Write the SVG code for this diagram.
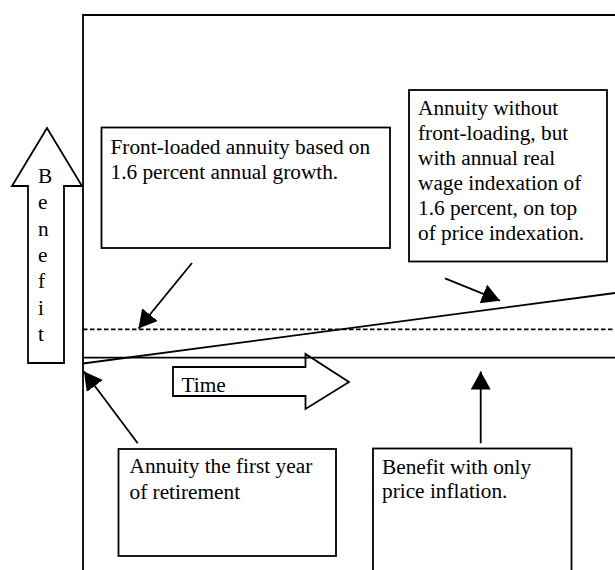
<svg xmlns="http://www.w3.org/2000/svg" width="615" height="570" viewBox="0 0 615 570">
<style>
.ln{stroke:#000;stroke-width:1.8;fill:none}
.bx{stroke:#000;stroke-width:1.8;fill:#fff}
.t{font-family:"Liberation Serif","Times New Roman",serif;font-size:21.3px;fill:#000}
</style>
<defs>
<marker id="ah" markerUnits="userSpaceOnUse" markerWidth="20" markerHeight="22" refX="18" refY="10" orient="auto" viewBox="0 0 20 22">
<path d="M0,0 L18,10 L0,20 z" fill="#000"/>
</marker>
</defs>
<rect width="615" height="570" fill="#fff"/>
<g id="frame">
<path class="ln" d="M83,570 V15 H615"/>
</g>
<g id="benefit-axis">
<path class="ln" d="M28,363 V186 H12 L47,128 L82,186 H64 V363 Z" fill="#fff"/>
<text class="t" x="38" y="182.7">B</text>
<text class="t" x="38" y="209.1">e</text>
<text class="t" x="38" y="235.5">n</text>
<text class="t" x="38" y="261.9">e</text>
<text class="t" x="38" y="288.3">f</text>
<text class="t" x="38" y="314.7">i</text>
<text class="t" x="38" y="341.1">t</text>
</g>
<g id="time-axis">
<path class="ln" d="M173,367 H305.5 V354 L349,382 L305.5,409 V396 H173 Z"/>
<text class="t" x="181.5" y="392">Time</text>
</g>
<g id="front-loaded">
<rect class="bx" x="101.5" y="127.5" width="288.5" height="120.5"/>
<text class="t" x="110.5" y="154">Front-loaded annuity based on</text>
<text class="t" x="110.5" y="179">1.6 percent annual growth.</text>
</g>
<g id="wage-indexed">
<rect class="bx" x="409" y="90" width="198" height="171.5"/>
<text class="t" x="418" y="115">Annuity without</text>
<text class="t" x="418" y="140">front-loading, but</text>
<text class="t" x="418" y="165">with annual real</text>
<text class="t" x="418" y="190">wage indexation of</text>
<text class="t" x="418" y="215">1.6 percent, on top</text>
<text class="t" x="418" y="240">of price indexation.</text>
</g>
<g id="first-year">
<rect class="bx" x="118.5" y="449" width="217.5" height="107"/>
<text class="t" x="129.5" y="473">Annuity the first year</text>
<text class="t" x="129.5" y="498.5">of retirement</text>
</g>
<g id="price-only">
<rect class="bx" x="373" y="448.5" width="198.5" height="130"/>
<text class="t" x="382" y="473.5">Benefit with only</text>
<text class="t" x="382" y="498">price inflation.</text>
</g>
<g id="connectors">
<line class="ln" x1="83" y1="329.3" x2="615" y2="329.3" stroke-dasharray="4.5 2.5"/>
<line class="ln" x1="83" y1="357.7" x2="615" y2="357.7"/>
<line class="ln" x1="83" y1="363.5" x2="615" y2="293"/>
<line class="ln" x1="192" y1="263" x2="138.5" y2="328.5" marker-end="url(#ah)"/>
<line class="ln" x1="445" y1="278.3" x2="500" y2="300.7" marker-end="url(#ah)"/>
<line class="ln" x1="137.7" y1="443.3" x2="84" y2="371.5" marker-end="url(#ah)"/>
<line class="ln" x1="480.7" y1="443.3" x2="480.7" y2="371.5" marker-end="url(#ah)"/>
</g>
</svg>
